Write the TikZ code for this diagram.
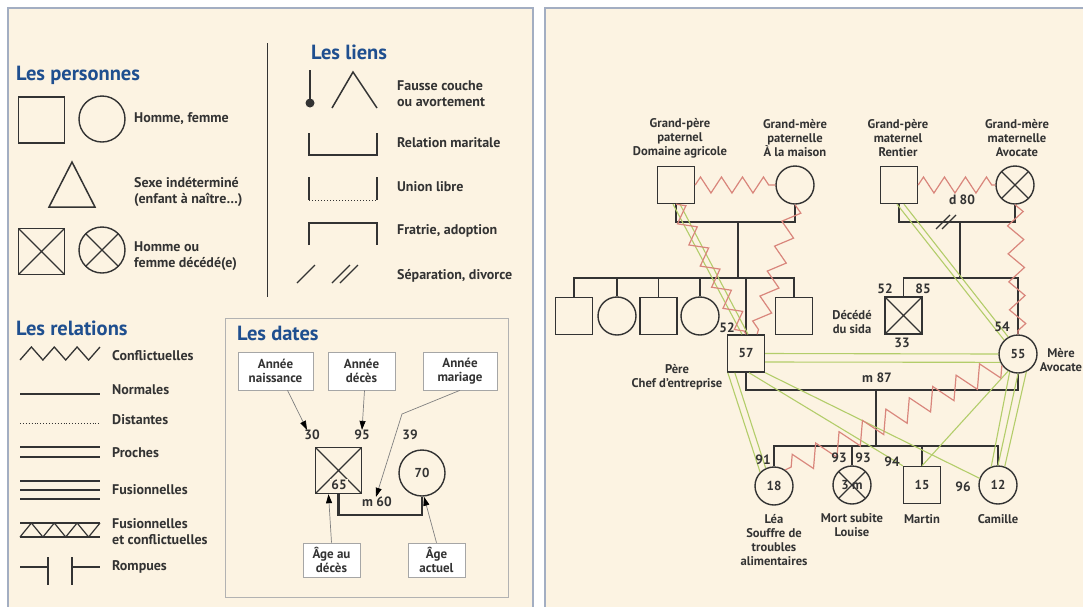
\documentclass[tikz,border=0pt]{standalone}
\usepackage{fontspec}
\setmainfont{PT Sans}
\usetikzlibrary{arrows.meta,decorations.pathmorphing}
\definecolor{creme}{HTML}{FCF3E2}
\definecolor{cadre}{HTML}{A3AEC2}
\definecolor{bleutitre}{HTML}{1F4F8F}
\definecolor{trait}{HTML}{333333}
\definecolor{vert}{HTML}{B3CD6A}
\definecolor{rouge}{HTML}{D9867C}

\begin{document}
\begin{tikzpicture}[x=1pt,y=-1pt]
        \tikzstyle{every node} = [inner sep=0pt, text=trait]
        \tikzstyle{homme} = [draw=trait, line width=1.4pt, rectangle, minimum size=37pt, font=\fontsize{13}{15}\selectfont\bfseries]
        \tikzstyle{femme} = [draw=trait, line width=1.4pt, circle, minimum size=38pt, font=\fontsize{13}{15}\selectfont\bfseries]
        \tikzstyle{decede} = [path picture={\draw[trait, line width=1.2pt] (path picture bounding box.north west) -- (path picture bounding box.south east) (path picture bounding box.north east) -- (path picture bounding box.south west);}]
        \tikzstyle{titre} = [anchor=west, text=bleutitre, font=\fontsize{20.5}{22}\selectfont\bfseries]
        \tikzstyle{etiq} = [anchor=west, align=left, font=\fontsize{14}{16}\selectfont\bfseries]
        \tikzstyle{petit} = [align=center, font=\fontsize{12.6}{14}\selectfont\bfseries]
        \tikzstyle{nombre} = [font=\fontsize{13.5}{15}\selectfont\bfseries]
        \tikzstyle{lien} = [draw=trait, line width=1.5pt]
        \tikzstyle{vertrel} = [draw=vert, line width=1.1pt]
        \tikzstyle{conflit} = [draw=rouge, line width=1.2pt, decorate, decoration={zigzag, segment length=24pt, amplitude=8pt}]
        \tikzstyle{boite} = [draw=gray!70, fill=white, line width=0.6pt, align=center, font=\fontsize{13}{14}\selectfont\bfseries]
        \tikzstyle{fleche} = [draw=gray, line width=0.7pt, -{Triangle[length=9pt,width=6pt,color=black]}]

        \useasboundingbox (0,0) rectangle (1083,606);
        \fill[white] (0,0) rectangle (1083,606);
        \draw[cadre, line width=2pt, fill=creme] (8,8) rectangle (533,620);
        \draw[cadre, line width=2pt, fill=creme] (545,8) rectangle (1100,620);

        % les personnes
        \node[titre] (tpers) at (16,75) {Les personnes};
        \node[homme, minimum size=46pt] (lh) at (41.5,120) {};
        \node[femme, minimum size=46pt] (lf) at (102,119) {};
        \node[etiq] (thf) at (134,119) {Homme, femme};
        \draw[lien] (49,207) -- (72,162) -- (95,207) -- cycle;
        \node[etiq] (tsexe) at (134,192) {Sexe indéterminé\\(enfant à naître…)};
        \node[homme, decede, minimum size=46pt] (lhd) at (41.5,251.5) {};
        \node[femme, decede, minimum size=46pt] (lfd) at (102,250) {};
        \node[etiq] (tdec) at (134,256) {Homme ou\\femme décédé(e)};
        \draw[trait, line width=0.8pt] (267,43) -- (267,297);

        % les liens
        \node[titre] (tliens) at (311,52) {Les liens};
        \draw[lien] (310,70) -- (310,100);
        \fill[trait] (310,103) circle (4.5);
        \draw[lien] (332,108) -- (353,72) -- (377,108);
        \node[etiq] (tfc) at (397,94) {Fausse couche\\ou avortement};
        \draw[lien] (309,133) |- (377,155) -- (377,133);
        \node[etiq] (trm) at (397,143) {Relation maritale};
        \draw[lien] (309,177) -- (309,200) (377,177) -- (377,200);
        \draw[trait, line width=1pt, dotted] (309,200) -- (377,200);
        \node[etiq] (tul) at (397,187) {Union libre};
        \draw[lien] (309,245) |- (377,223) -- (377,245);
        \node[etiq] (tfa) at (397,231) {Fratrie, adoption};
        \foreach \xa in {297,332,340}
            \draw[lien, line width=1.2pt] (\xa,283) -- ++(18,-18);
        \node[etiq] (tsep) at (397,276) {Séparation, divorce};

        % les relations
        \node[titre] (trel) at (16,328) {Les relations};
        \draw[trait, line width=1.3pt] (20,360) -- (31.4,347) -- (42.9,360) -- (54.3,347) -- (65.7,360) -- (77.1,347) -- (88.6,360) -- (100,347);
        \node[etiq] (tconf) at (112,356) {Conflictuelles};
        \draw[trait, line width=1.3pt] (20,394) -- (100,394);
        \node[etiq] (tnorm) at (112,390) {Normales};
        \draw[trait, line width=0.9pt, dotted] (20,423) -- (100,423);
        \node[etiq] (tdist) at (112,420) {Distantes};
        \draw[trait, line width=1.3pt] (20,447) -- (100,447);
        \draw[trait, line width=2pt] (20,457) -- (100,457);
        \node[etiq] (tproc) at (112,453) {Proches};
        \foreach \ya in {481,490,499}
            \draw[trait, line width=1.4pt] (20,\ya) -- (100,\ya);
        \node[etiq] (tfus) at (112,490) {Fusionnelles};
        \draw[trait, line width=1.4pt] (20,523) -- (100,523) (20,537) -- (100,537);
        \draw[trait, line width=1.2pt] (20,537) -- (31.4,523) -- (42.9,537) -- (54.3,523) -- (65.7,537) -- (77.1,523) -- (88.6,537) -- (100,523);
        \node[etiq] (tfc2) at (112,532) {Fusionnelles\\et conflictuelles};
        \draw[trait, line width=1.3pt] (20,567) -- (48,567) (48,557) -- (48,585);
        \draw[trait, line width=1.3pt] (72,557) -- (72,585) (72,567) -- (100,567);
        \node[etiq] (tromp) at (112,567) {Rompues};

        % les dates
        \draw[gray!60, line width=0.8pt] (225,318) rectangle (508,597);
        \node[titre] (tdates) at (237,333) {Les dates};
        \node[boite, minimum width=75pt, minimum height=38pt] (naiss) at (275.5,371) {Année\\naissance};
        \node[boite, minimum width=67pt, minimum height=38pt] (deces) at (361.5,371) {Année\\décès};
        \node[boite, minimum width=74pt, minimum height=38pt] (mariage) at (460,371) {Année\\mariage};
        \node[boite, minimum width=57pt, minimum height=34pt] (agedeces) at (331.5,560) {Âge au\\décès};
        \node[boite, minimum width=57pt, minimum height=34pt] (ageactuel) at (436.5,560) {Âge\\actuel};
        \node[nombre] (n30) at (312,435) {30};
        \node[nombre] (n95) at (362,435) {95};
        \node[nombre] (n39) at (410,435) {39};
        \node[homme, decede, minimum size=46pt] (dsq) at (338.5,470.5) {};
        \node[nombre, fill=creme, inner sep=1pt] (n65) at (339,485) {65};
        \node[femme, minimum size=46pt] (dci) at (422,473) {70};
        \coordinate (dm) at (378,515);
        \draw[lien, line width=2.2pt] (dsq.south) |- (dm) -| (dci.south);
        \node[nombre] (m60) at (377,502) {m 60};
        \coordinate (mb) at (402,414);
        \draw[fleche] ([xshift=12pt]naiss.south) -- ([xshift=-5pt]n30.north);
        \draw[fleche] ([xshift=3pt]deces.south) -- (n95.north);
        \draw[fleche] (mariage.south) -- (mb) -- ([xshift=-1pt]m60.north);
        \draw[fleche] (agedeces.north) -- ([xshift=-10pt]dsq.south);
        \draw[fleche] (ageactuel.north) -- ([xshift=2pt]dci.south);

        % genogramme
        \node[homme] (gpp) at (676,185) {};
        \node[femme] (gmp) at (795,185) {};
        \node[homme] (gpm) at (899,185) {};
        \node[femme, decede] (gmm) at (1015,185) {};
        \node[petit] (tgpp) at (680,138) {Grand-père\\paternel\\Domaine agricole};
        \node[petit] (tgmp) at (795,138) {Grand-mère\\paternelle\\À la maison};
        \node[petit] (tgpm) at (898,138) {Grand-père\\maternel\\Rentier};
        \node[petit] (tgmm) at (1017,138) {Grand-mère\\maternelle\\Avocate};

        \node[homme] (u1) at (574,316) {};
        \node[femme] (u2) at (617,316) {};
        \node[homme] (u3) at (658.5,316) {};
        \node[femme] (u4) at (700,316) {};
        \node[homme] (u5) at (794,316) {};
        \node[homme] (pere) at (746,353.5) {57};
        \node[homme, decede] (oncle) at (903.5,315.5) {};
        \node[femme] (mere) at (1018,354) {55};

        \node[femme] (lea) at (774,486) {18};
        \node[femme, decede] (louise) at (852,485) {3 m};
        \node[homme] (martin) at (922,485) {15};
        \node[femme] (camille) at (998,485) {12};

        \coordinate (cp1) at (738,222);
        \coordinate (sp1) at (738,278);
        \coordinate (cp2) at (960,222);
        \coordinate (sp2) at (960,278);
        \coordinate (cp3) at (876,390);
        \coordinate (sp3) at (876,446);
        \coordinate (div) at (944,222);

        % liens familiaux
        \draw[lien] (gpp.south) |- (cp1) -| (gmp.south);
        \draw[lien] (cp1) -- (sp1);
        \draw[lien] (u1.north) -- (u1.north |- sp1) -- (u5.north |- sp1) -- (u5.north);
        \foreach \k in {u2,u3,u4,pere}
            \draw[lien] (\k.north) -- (\k.north |- sp1);
        \draw[lien] (gpm.south) |- (cp2) -| (gmm.south);
        \draw[lien] (cp2) -- (sp2);
        \draw[lien] (oncle.north) -- (oncle.north |- sp2) -- (mere.north |- sp2) -- (mere.north);
        \draw[lien, line width=1.2pt] ([shift={(-8,7)}]div) -- ([shift={(6,-7)}]div);
        \draw[lien, line width=1.2pt] ([shift={(-2,7)}]div) -- ([shift={(12,-7)}]div);
        \draw[lien] (pere.south) |- (cp3) -| (mere.south);
        \draw[lien] (cp3) -- (sp3);
        \draw[lien] (lea.north) -- (lea.north |- sp3) -- (camille.north |- sp3) -- (camille.north);
        \foreach \k in {louise,martin}
            \draw[lien] (\k.north) -- (\k.north |- sp3);

        % relations
        \draw[vertrel] ([xshift=-3pt]gpp.south) -- ([xshift=-4pt]pere.north);
        \draw[vertrel] ([xshift=4pt]gpp.south) -- ([xshift=2pt]pere.north);
        \draw[vertrel] ([xshift=-2pt]gpm.south) -- (mere.135);
        \draw[vertrel] ([xshift=5pt]gpm.south) -- (mere.120);
        \draw[vertrel] (pere.east) -- (mere.west);
        \draw[vertrel] ([yshift=-8.5pt]pere.east) -- (mere.205);
        \draw[vertrel] ([xshift=1pt]pere.south west) -- (lea.135);
        \draw[vertrel] ([xshift=8pt]pere.south west) -- (lea.115);
        \draw[vertrel] ([xshift=3pt]pere.south) -- (martin.north west);
        \draw[vertrel] (pere.south east) -- (camille.160);
        \draw[vertrel] (mere.240) -- (martin.north);
        \foreach \from/\to in {mere.245/camille.110, mere.270/camille.90, mere.295/camille.70}
            \draw[vertrel] (\from) -- (\to);
        \draw[conflit, decoration={segment length=21pt, amplitude=8pt}] (gpp.east) -- (gmp.west);
        \draw[conflit, decoration={segment length=21pt, amplitude=8pt}] (gpm.east) -- (gmm.west);
        \draw[conflit] (gpp.south) -- (pere.north);
        \draw[conflit, decoration={segment length=26pt, amplitude=8pt}] (gmp.south) -- (pere.60);
        \draw[conflit, decoration={segment length=28pt, amplitude=8pt}] (gmm.south) -- (mere.north);
        \draw[conflit, decoration={segment length=26pt, amplitude=11pt}] (mere.215) -- (lea.55);

        % dates et textes
        \node[nombre] (a52p) at (727,328) {52};
        \node[nombre] (a52o) at (885,289) {52};
        \node[nombre] (a85o) at (923,289) {85};
        \node[nombre] (a33o) at (902,343) {33};
        \node[nombre] (a54m) at (1002,327) {54};
        \node[nombre] (d80) at (962,200) {d 80};
        \node[nombre] (m87) at (877,378) {m 87};
        \node[nombre] (a91) at (763,460) {91};
        \node[nombre] (a93a) at (839,458) {93};
        \node[nombre] (a93b) at (863,458) {93};
        \node[nombre] (a94) at (892,462) {94};
        \node[nombre] (a96) at (963,487) {96};
        \node[petit] (tpere) at (677,377) {Père\\Chef d’entreprise};
        \node[petit] (toncle) at (852,322) {Décédé\\du sida};
        \node[petit] (tmere) at (1061,360) {Mère\\Avocate};
        \node[petit] (tlea) at (774,540) {Léa\\Souffre de\\troubles\\alimentaires};
        \node[petit] (tlouise) at (852,525) {Mort subite\\Louise};
        \node[petit] (tmartin) at (922,519) {Martin};
        \node[petit] (tcamille) at (998,519) {Camille};
\end{tikzpicture}
\end{document}
